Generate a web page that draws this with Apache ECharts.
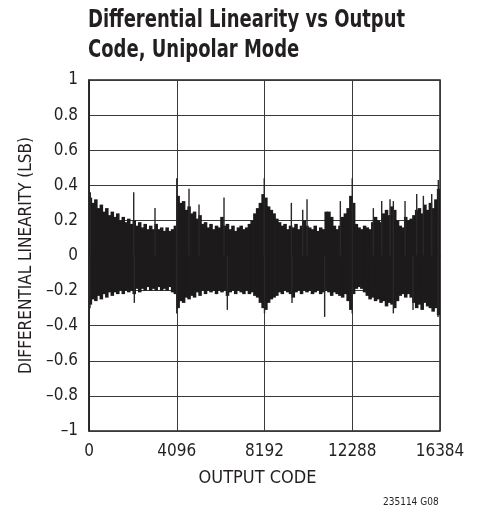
<!DOCTYPE html>
<html>
<head>
<meta charset="utf-8">
<script src="https://cdn.jsdelivr.net/npm/echarts@6/dist/echarts.min.js"></script>
<style>
html,body{margin:0;padding:0;background:#fff;}
#chart{width:482px;height:517px;}
</style>
</head>
<body>
<div id="chart"></div>
<script>
// Output code range and tick labels
const xTicks = [0, 4096, 8192, 12288, 16384];
const yTicks = [-1, -0.8, -0.6, -0.4, -0.2, 0, 0.2, 0.4, 0.6, 0.8, 1];
const binSize = 128; // codes per envelope bin

// Upper envelope of DNL (LSB), one value per 128-code bin (128 bins)
const dnlHigh = [
  0.33,0.30,0.32,0.27,0.29,0.25,0.27,0.23,0.25,0.22,0.24,0.20,0.22,0.19,0.21,0.18,
  0.20,0.17,0.19,0.16,0.18,0.15,0.17,0.15,0.18,0.15,0.16,0.14,0.16,0.14,0.15,0.17,
  0.34,0.30,0.31,0.26,0.28,0.24,0.25,0.21,0.23,0.18,0.19,0.16,0.18,0.15,0.17,0.16,
  0.22,0.17,0.18,0.15,0.17,0.14,0.16,0.17,0.15,0.16,0.18,0.20,0.24,0.27,0.30,0.35,
  0.33,0.28,0.26,0.24,0.21,0.19,0.17,0.18,0.15,0.17,0.16,0.18,0.15,0.17,0.20,0.17,
  0.16,0.15,0.17,0.14,0.16,0.15,0.25,0.25,0.22,0.17,0.15,0.17,0.22,0.24,0.27,0.34,
  0.30,0.18,0.16,0.15,0.17,0.16,0.15,0.19,0.22,0.20,0.19,0.24,0.26,0.23,0.28,0.26,
  0.20,0.17,0.16,0.22,0.20,0.21,0.23,0.26,0.27,0.24,0.29,0.26,0.30,0.27,0.32,0.38
];
// Lower envelope of DNL (LSB), one value per 128-code bin
const dnlLow = [
  -0.28,-0.25,-0.26,-0.23,-0.25,-0.22,-0.24,-0.21,-0.23,-0.21,-0.22,-0.20,-0.22,-0.20,-0.21,-0.20,
  -0.22,-0.19,-0.21,-0.19,-0.20,-0.18,-0.20,-0.19,-0.20,-0.18,-0.20,-0.19,-0.20,-0.18,-0.21,-0.22,
  -0.30,-0.26,-0.27,-0.24,-0.25,-0.23,-0.24,-0.21,-0.23,-0.20,-0.22,-0.20,-0.21,-0.20,-0.22,-0.20,
  -0.21,-0.20,-0.23,-0.21,-0.20,-0.22,-0.20,-0.21,-0.22,-0.20,-0.22,-0.21,-0.23,-0.24,-0.27,-0.30,
  -0.31,-0.27,-0.25,-0.24,-0.23,-0.21,-0.22,-0.20,-0.21,-0.22,-0.24,-0.21,-0.20,-0.22,-0.20,-0.21,
  -0.20,-0.22,-0.21,-0.20,-0.22,-0.21,-0.20,-0.21,-0.23,-0.21,-0.22,-0.23,-0.24,-0.22,-0.26,-0.31,
  -0.22,-0.19,-0.18,-0.19,-0.21,-0.23,-0.25,-0.24,-0.26,-0.25,-0.27,-0.26,-0.29,-0.27,-0.28,-0.30,
  -0.26,-0.23,-0.22,-0.24,-0.22,-0.24,-0.27,-0.30,-0.28,-0.31,-0.27,-0.29,-0.30,-0.32,-0.30,-0.34
];
// Isolated spikes [code, DNL]
const spikesUp = [
  [60,0.36],[2087,0.36],[3081,0.27],[4096,0.44],[4668,0.38],[5135,0.29],[6302,0.33],
  [8180,0.44],[9445,0.30],[9976,0.26],[10177,0.32],[11732,0.31],[12288,0.44],
  [13273,0.27],[13663,0.31],[14051,0.32],[14206,0.31],[14752,0.31],[15297,0.35],
  [15608,0.34],[15997,0.35],[16305,0.43]
];
const spikesDown = [
  [47,-0.30],[2116,-0.27],[4096,-0.33],[6457,-0.31],[8192,-0.33],[9476,-0.27],
  [11000,-0.35],[12288,-0.33],[14206,-0.33],[15124,-0.31],[16291,-0.35]
];
const titleLines = ['Differential Linearity vs Output', 'Code, Unipolar Mode'];

const envData = dnlHigh.map((h, i) => [i * binSize, (i + 1) * binSize, dnlLow[i], h]);
const spikeData = spikesUp.concat(spikesDown);

const FONT = '"DejaVu Sans Condensed","Liberation Sans Narrow",sans-serif';
const INK = '#231f20';
const GRID = '#3a3a3a';
const chart = echarts.init(document.getElementById('chart'), null, {renderer: 'canvas'});

function fmtY(v) {
  const r = Math.round(v * 10) / 10;
  if (r < 0) return '\u2013' + String(Math.abs(r));
  return String(r);
}

chart.setOption({
  animation: false,
  backgroundColor: '#fff',
  grid: {left: 89, top: 80, width: 351, height: 351, show: true, borderColor: INK, borderWidth: 1.5, backgroundColor: 'transparent'},
  xAxis: {
    type: 'value', min: 0, max: 16384, interval: 4096,
    name: 'OUTPUT CODE', nameLocation: 'middle', nameGap: 38,
    nameTextStyle: {fontFamily: FONT, fontSize: 18, color: INK, padding: [0, 14, 0, 0]},
    axisLine: {show: true, lineStyle: {color: INK, width: 1.5}},
    axisTick: {show: false},
    axisLabel: {fontFamily: FONT, fontSize: 17, color: INK, margin: 12,
      formatter: v => xTicks.includes(v) ? String(v) : ''},
    splitLine: {show: true, lineStyle: {color: GRID, width: 1}}
  },
  yAxis: {
    type: 'value', min: -1, max: 1, interval: 0.2,
    name: 'DIFFERENTIAL LINEARITY (LSB)', nameLocation: 'middle', nameGap: 54, nameRotate: 90,
    nameTextStyle: {fontFamily: FONT, fontSize: 17, color: INK},
    axisLine: {show: true, lineStyle: {color: INK, width: 1.5}},
    axisTick: {show: false},
    axisLabel: {fontFamily: FONT, fontSize: 17, color: INK, margin: 11, formatter: fmtY},
    splitLine: {show: true, lineStyle: {color: GRID, width: 1}}
  },
  graphic: [
    {type: 'text', x: 88, y: 9, scaleX: 0.833,
      style: {text: titleLines[0], fontFamily: FONT, fontSize: 24, fontWeight: 'bold', fill: INK}},
    {type: 'text', x: 88, y: 39, scaleX: 0.833,
      style: {text: titleLines[1], fontFamily: FONT, fontSize: 24, fontWeight: 'bold', fill: INK}},
    {type: 'text', x: 383, y: 497,
      style: {text: '235114 G08', fontFamily: FONT, fontSize: 10, fill: INK}}
  ],
  series: [
    {
      type: 'custom', name: 'envelope', clip: true,
      encode: {x: [0, 1], y: [2, 3]},
      data: envData,
      renderItem: function (params, api) {
        const p1 = api.coord([api.value(0), api.value(3)]);
        const p2 = api.coord([api.value(1), api.value(2)]);
        return {type: 'rect', shape: {x: p1[0] - 0.4, y: p1[1], width: p2[0] - p1[0] + 0.8, height: p2[1] - p1[1]},
          style: {fill: '#1c1a1b'}};
      }
    },
    {
      type: 'custom', name: 'spikes', clip: true,
      encode: {x: 0, y: 1},
      data: spikeData,
      renderItem: function (params, api) {
        const a = api.coord([api.value(0), 0]);
        const b = api.coord([api.value(0), api.value(1)]);
        return {type: 'line', shape: {x1: a[0], y1: a[1], x2: b[0], y2: b[1]},
          style: {stroke: '#2a2728', lineWidth: 1.4}};
      }
    }
  ]
});
</script>
</body>
</html>
